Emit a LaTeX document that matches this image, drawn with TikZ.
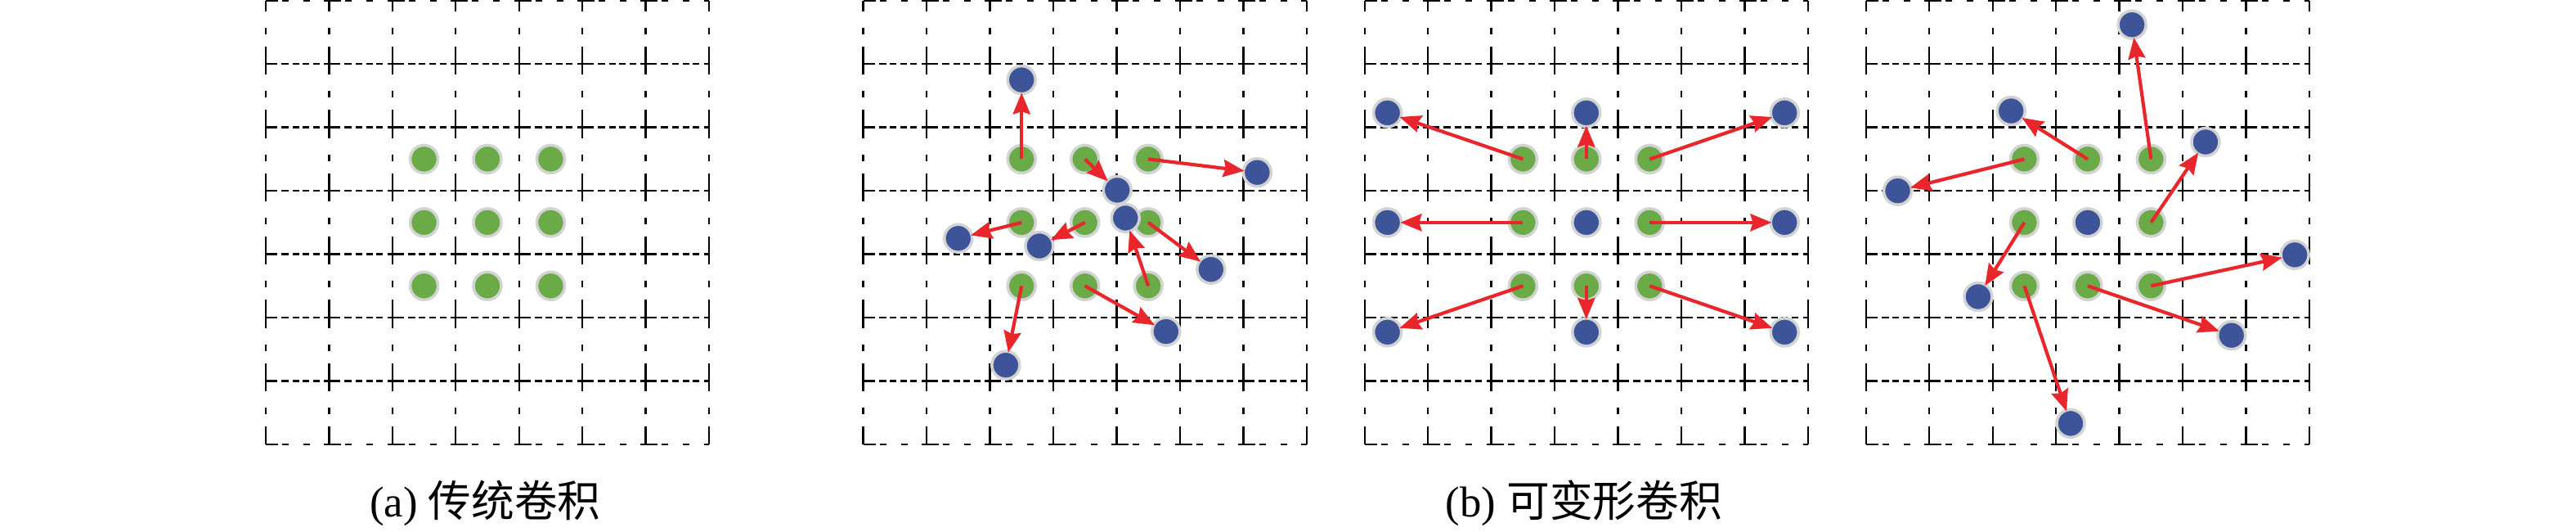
\documentclass[tikz,border=0pt]{standalone}
\usepackage{fontspec}
\setmainfont{Liberation Serif}
\newfontfamily\cjk{Noto Sans CJK SC}
\usetikzlibrary{arrows.meta}
\definecolor{dotgreen}{HTML}{6AAB48}
\definecolor{dotblue}{HTML}{3D5499}
\definecolor{ringgray}{HTML}{D2D3D3}
\definecolor{offred}{HTML}{E8262B}
\tikzset{
  grid v/.style = {line width=0.24mm, dash pattern=on 3.44mm off 2mm on 0.8mm off 1.5mm, dash phase=2.14mm},
  grid h/.style = {line width=0.24mm, dash pattern=on 2mm off 0.5mm on 0.9mm off 0.46mm on 0.8mm off 0.46mm on 0.8mm off 0.46mm on 0.8mm off 0.56mm, dash phase=0.6mm},
  grid edge/.style = {line width=0.24mm, dash pattern=on 2.1mm off 0.5mm on 0.8mm off 1.8mm on 0.8mm off 1.74mm, dash phase=0.6mm},
  ptdot/.style = {circle, inner sep=0, minimum size=3.4mm, line width=0.35mm, draw=ringgray},
  sampled/.style = {ptdot, fill=dotgreen},
  shifted/.style = {ptdot, fill=dotblue},
  move/.style = {->, >={Stealth[length=2.6mm, width=2.1mm, inset=0.3mm]}, draw=offred, line width=0.42mm, shorten >=-0.3mm},
  caption/.style = {inner sep=0, font=\fontsize{15pt}{17pt}\selectfont}
}

\begin{document}
\begin{tikzpicture}
    \useasboundingbox (0, 0) rectangle (31.5, 6.5);

    % dashed grids
    \foreach \px in {3.249, 10.556, 16.687, 22.818} {
      \begin{scope}[shift={(\px, 6.492)}, x=0.7745cm, y=-0.7745cm]
        \foreach \i in {0,...,7} \draw [grid v] (\i, 0) -- (\i, 7);
        \foreach \j in {1,...,6} \draw [grid h] (0, \j) -- (7, \j);
        \foreach \j in {0,7} \draw [grid edge] (0, \j) -- (7, \j);
      \end{scope}
    }

    % (a)
    \begin{scope}[shift={(3.249, 6.492)}, x=0.7745cm, y=-0.7745cm]
      \node [sampled] (ag1) at (2.5, 2.5) {};
      \node [sampled] (ag2) at (3.5, 2.5) {};
      \node [sampled] (ag3) at (4.5, 2.5) {};
      \node [sampled] (ag4) at (2.5, 3.5) {};
      \node [sampled] (ag5) at (3.5, 3.5) {};
      \node [sampled] (ag6) at (4.5, 3.5) {};
      \node [sampled] (ag7) at (2.5, 4.5) {};
      \node [sampled] (ag8) at (3.5, 4.5) {};
      \node [sampled] (ag9) at (4.5, 4.5) {};
    \end{scope}

    % (b), free offsets
    \begin{scope}[shift={(10.556, 6.492)}, x=0.7745cm, y=-0.7745cm]
      \node [sampled] (bg1) at (2.5, 2.5) {};
      \node [sampled] (bg2) at (3.5, 2.5) {};
      \node [sampled] (bg3) at (4.5, 2.5) {};
      \node [sampled] (bg4) at (2.5, 3.5) {};
      \node [sampled] (bg5) at (3.5, 3.5) {};
      \node [sampled] (bg6) at (4.5, 3.5) {};
      \node [sampled] (bg7) at (2.5, 4.5) {};
      \node [sampled] (bg8) at (3.5, 4.5) {};
      \node [sampled] (bg9) at (4.5, 4.5) {};

      \node [shifted] (bo1) at (2.50, 1.25) {};
      \node [shifted] (bo2) at (4.01, 2.99) {};
      \node [shifted] (bo3) at (6.22, 2.71) {};
      \node [shifted] (bo4) at (1.50, 3.75) {};
      \node [shifted] (bo5) at (2.78, 3.87) {};
      \node [shifted] (bo6) at (5.49, 4.24) {};
      \node [shifted] (bo7) at (2.25, 5.75) {};
      \node [shifted] (bo8) at (4.78, 5.22) {};
      \node [shifted] (bo9) at (4.14, 3.43) {};

      \draw [move] (bg1.center) -- (bo1);
      \draw [move] (bg2.center) -- (bo2);
      \draw [move] (bg3.center) -- (bo3);
      \draw [move] (bg4.center) -- (bo4);
      \draw [move] (bg5.center) -- (bo5);
      \draw [move] (bg6.center) -- (bo6);
      \draw [move] (bg7.center) -- (bo7);
      \draw [move] (bg8.center) -- (bo8);
      \draw [move] (bg9.center) -- (bo9);
    \end{scope}

    % (b), scaling
    \begin{scope}[shift={(16.687, 6.492)}, x=0.7745cm, y=-0.7745cm]
      \node [sampled] (cg1) at (2.5, 2.5) {};
      \node [sampled] (cg2) at (3.5, 2.5) {};
      \node [sampled] (cg3) at (4.5, 2.5) {};
      \node [sampled] (cg4) at (2.5, 3.5) {};
      \node [sampled] (cg6) at (4.5, 3.5) {};
      \node [sampled] (cg7) at (2.5, 4.5) {};
      \node [sampled] (cg8) at (3.5, 4.5) {};
      \node [sampled] (cg9) at (4.5, 4.5) {};

      \node [shifted] (co1) at (0.36, 1.77) {};
      \node [shifted] (co2) at (3.50, 1.77) {};
      \node [shifted] (co3) at (6.63, 1.77) {};
      \node [shifted] (co4) at (0.36, 3.50) {};
      \node [shifted] (co5) at (3.50, 3.50) {};
      \node [shifted] (co6) at (6.63, 3.50) {};
      \node [shifted] (co7) at (0.36, 5.23) {};
      \node [shifted] (co8) at (3.50, 5.23) {};
      \node [shifted] (co9) at (6.63, 5.23) {};

      \draw [move] (cg1.center) -- (co1);
      \draw [move] (cg2.center) -- (co2);
      \draw [move] (cg3.center) -- (co3);
      \draw [move] (cg4.center) -- (co4);
      \draw [move] (cg6.center) -- (co6);
      \draw [move] (cg7.center) -- (co7);
      \draw [move] (cg8.center) -- (co8);
      \draw [move] (cg9.center) -- (co9);
    \end{scope}

    % (b), rotation
    \begin{scope}[shift={(22.818, 6.492)}, x=0.7745cm, y=-0.7745cm]
      \node [sampled] (dg1) at (2.5, 2.5) {};
      \node [sampled] (dg2) at (3.5, 2.5) {};
      \node [sampled] (dg3) at (4.5, 2.5) {};
      \node [sampled] (dg4) at (2.5, 3.5) {};
      \node [sampled] (dg6) at (4.5, 3.5) {};
      \node [sampled] (dg7) at (2.5, 4.5) {};
      \node [sampled] (dg8) at (3.5, 4.5) {};
      \node [sampled] (dg9) at (4.5, 4.5) {};

      \node [shifted] (do1) at (0.50, 3.00) {};
      \node [shifted] (do2) at (2.29, 1.74) {};
      \node [shifted] (do3) at (4.20, 0.38) {};
      \node [shifted] (do4) at (1.77, 4.67) {};
      \node [shifted] (do5) at (3.50, 3.50) {};
      \node [shifted] (do6) at (5.36, 2.23) {};
      \node [shifted] (do7) at (3.23, 6.67) {};
      \node [shifted] (do8) at (5.77, 5.28) {};
      \node [shifted] (do9) at (6.77, 4.01) {};

      \draw [move] (dg1.center) -- (do1);
      \draw [move] (dg2.center) -- (do2);
      \draw [move] (dg3.center) -- (do3);
      \draw [move] (dg4.center) -- (do4);
      \draw [move] (dg6.center) -- (do6);
      \draw [move] (dg7.center) -- (do7);
      \draw [move] (dg8.center) -- (do8);
      \draw [move] (dg9.center) -- (do9);
    \end{scope}

    \node [caption] (capa) at (5.934, 0.35) {(a) {\cjk 传统卷积}};
    \node [caption] (capb) at (19.37, 0.35) {(b) {\cjk 可变形卷积}};
  \end{tikzpicture}
\end{document}
